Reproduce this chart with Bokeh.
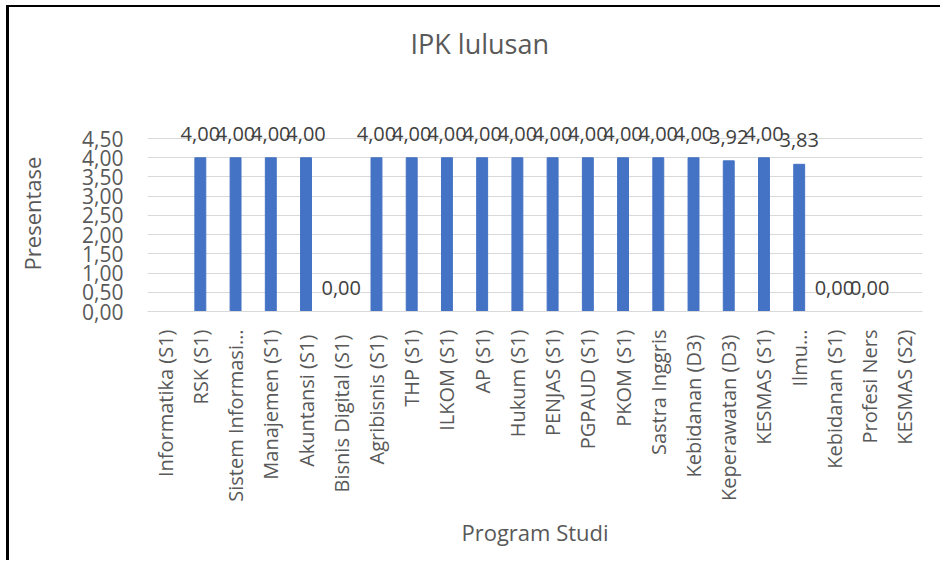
import math
from bokeh.plotting import figure
from bokeh.models import ColumnDataSource, Range1d, FactorRange, FixedTicker, LabelSet, Title
from bokeh.core.properties import value
from bokeh.embed import file_html
from bokeh.resources import INLINE

categories = [
    "Informatika (S1)", "RSK (S1)", "Sistem Informasi…", "Manajemen (S1)",
    "Akuntansi  (S1)", "Bisnis Digital  (S1)", "Agribisnis  (S1)", "THP (S1)",
    "ILKOM (S1)", "AP (S1)", "Hukum (S1)", "PENJAS (S1)", "PGPAUD (S1)",
    "PKOM (S1)", "Sastra Inggris", "Kebidanan  (D3)", "Keperawatan  (D3)",
    "KESMAS (S1)", "Ilmu…", "Kebidanan (S1)", "Profesi Ners", "KESMAS (S2)",
]
ipk = [None, 4.00, 4.00, 4.00, 4.00, 0.00, 4.00, 4.00, 4.00, 4.00, 4.00,
       4.00, 4.00, 4.00, 4.00, 4.00, 3.92, 4.00, 3.83, 0.00, 0.00, None]
y_ticks = [0.0, 0.5, 1.0, 1.5, 2.0, 2.5, 3.0, 3.5, 4.0, 4.5]
y_tick_labels = ["0,00", "0,50", "1,00", "1,50", "2,00", "2,50", "3,00", "3,50", "4,00", "4,50"]

FONT = "Open Sans"
TXT = "#595959"

tops = [float("nan") if v is None else v for v in ipk]
label_y = [0.0 if v is None else v for v in ipk]
label_txt = ["" if v is None else f"{v:.2f}".replace(".", ",") for v in ipk]
src = ColumnDataSource(dict(x=categories, top=tops, ly=label_y, lt=label_txt))

p = figure(
    x_range=FactorRange(*categories), y_range=Range1d(0, 5.1),
    width=946, height=555, output_backend="svg", toolbar_location=None,
    min_border_left=138, min_border_right=33, min_border_top=108, min_border_bottom=251,
    title=None,
)
p.styles = {"margin-top": "7px", "margin-left": "9px",
            "box-shadow": "-3px -2px 0 0 #000"}
p.outline_line_color = None
p.background_fill_color = "white"
p.border_fill_color = "white"

# spacer between the title and the plot area, then the title itself
p.add_layout(Title(text=" ", text_font_size="10px", standoff=37, text_color="white"), "above")
p.add_layout(Title(text="IPK lulusan", align="left", offset=263, standoff=8,
                   text_font=FONT, text_font_size="27px", text_font_style="normal",
                   text_color=TXT), "above")

p.vbar(x="x", top="top", width=0.31, source=src, color="#4472C4")

labels = LabelSet(x="x", y="ly", text="lt", source=src, text_align="center",
                  text_baseline="middle", y_offset=24, text_font_size=value("20px"),
                  text_color=value("#404040"), text_font=value(FONT))
p.add_layout(labels)

p.xgrid.grid_line_color = None
p.ygrid.grid_line_color = "#D9D9D9"
p.ygrid.grid_line_width = 1

p.yaxis.ticker = FixedTicker(ticks=y_ticks)
p.yaxis.major_label_overrides = {t: l for t, l in zip(y_ticks, y_tick_labels)}
p.yaxis.axis_line_color = None
p.yaxis.major_tick_line_color = None
p.yaxis.minor_tick_line_color = None
p.yaxis.major_label_standoff = 18
p.yaxis.major_label_text_font = FONT
p.yaxis.major_label_text_font_size = "21px"
p.yaxis.major_label_text_color = TXT
p.yaxis.axis_label = "Presentase"
p.yaxis.axis_label_text_font = FONT
p.yaxis.axis_label_text_font_size = "22px"
p.yaxis.axis_label_text_font_style = "normal"
p.yaxis.axis_label_text_color = TXT
p.yaxis.axis_label_standoff = 32

p.xaxis.axis_line_color = "#D9D9D9"
p.xaxis.major_tick_line_color = None
p.xaxis.minor_tick_line_color = None
p.xaxis.major_label_orientation = math.pi / 2
p.xaxis.major_label_standoff = 12
p.xaxis.major_label_text_font = FONT
p.xaxis.major_label_text_font_size = "20px"
p.xaxis.major_label_text_color = TXT
p.xaxis.axis_label = "Program Studi"
p.xaxis.axis_label_text_font = FONT
p.xaxis.axis_label_text_font_size = "22px"
p.xaxis.axis_label_text_font_style = "normal"
p.xaxis.axis_label_text_color = TXT
p.xaxis.axis_label_standoff = 12

open("out.html", "w").write(file_html(p, INLINE))
